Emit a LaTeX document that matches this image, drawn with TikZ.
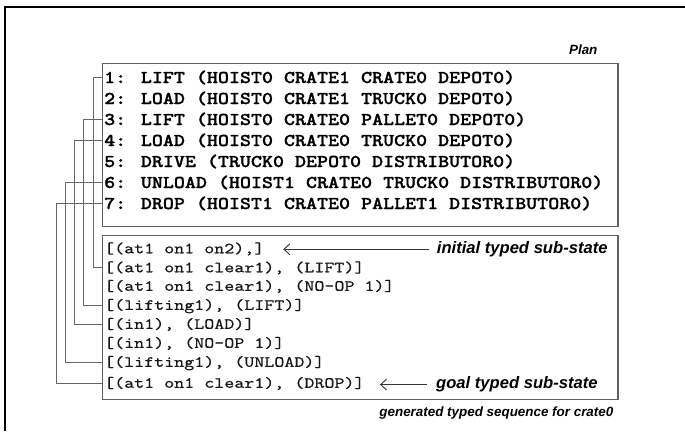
\documentclass[tikz,border=0pt]{standalone}
\usepackage{fontspec}
\setmainfont{Liberation Sans}
\newfontfamily\pmono{lmmonolt10-bold.otf}[FakeStretch=1.165,FakeBold=1.2]
\newfontfamily\smono{lmmono10-regular.otf}[FakeStretch=1.23,FakeBold=0.5]
\usetikzlibrary{arrows.meta,calc}

\tikzset{
  frameline/.style={line width=2pt, draw=black},
  boxst/.style={draw=black!62, line width=1.2pt, inner sep=0pt, anchor=north west},
  plantxt/.style={font=\pmono\fontsize{18}{21}\selectfont, inner sep=0pt, anchor=west, text height=11pt, text depth=0pt},
  subtxt/.style={font=\smono\fontsize{15.5}{19}\selectfont, inner sep=0pt, anchor=west, text height=9.5pt, text depth=0pt, text=black!90},
  lab/.style={font=\bfseries\itshape\fontsize{16.6}{19}\selectfont, inner sep=0pt, anchor=base west},
  captext/.style={font=\bfseries\itshape\fontsize{13.4}{16}\selectfont, inner sep=0pt, anchor=base east},
  conn/.style={draw=black!60, line width=0.9pt},
  arr/.style={draw=black!80, line width=0.9pt, -{Straight Barb[length=6pt,width=11pt]}},
}

\begin{document}
\begin{tikzpicture}[x=1pt,y=-1pt]
\useasboundingbox (0,0) rectangle (685,431);
% outer frame
\coordinate (fbl) at (5,431);
\coordinate (ftl) at (5,6.7);
\coordinate (ftr) at (685,6.7);
\draw[frameline] (fbl) -- (ftl) -- (ftr);

% boxes
\node[boxst, minimum width=515.5pt, minimum height=163.3pt] (planbox) at (101.8,62.7) {};
\node[boxst, minimum width=515.5pt, minimum height=164.2pt] (subbox) at (101.8,234.8) {};

% captions
\node[captext] (plan) at (597.6,54.3) {Plan};
\node[captext] (gen) at (613.5,416.5) {generated typed sequence for crate0};

% plan lines
\node[plantxt] (p1) at (104,77.5)  {1: LIFT (HOIST0 CRATE1 CRATE0 DEPOT0)};
\node[plantxt] (p2) at (104,98.5)  {2: LOAD (HOIST0 CRATE1 TRUCK0 DEPOT0)};
\node[plantxt] (p3) at (104,119.5) {3: LIFT (HOIST0 CRATE0 PALLET0 DEPOT0)};
\node[plantxt] (p4) at (104,140.5) {4: LOAD (HOIST0 CRATE0 TRUCK0 DEPOT0)};
\node[plantxt] (p5) at (104,161.5) {5: DRIVE (TRUCK0 DEPOT0 DISTRIBUTOR0)};
\node[plantxt] (p6) at (104,182.5) {6: UNLOAD (HOIST1 CRATE0 TRUCK0 DISTRIBUTOR0)};
\node[plantxt] (p7) at (104,203.5) {7: DROP (HOIST1 CRATE0 PALLET1 DISTRIBUTOR0)};

% sub-state lines
\node[subtxt] (s1) at (104,248.5) {[(at1 on1 on2),]};
\node[subtxt] (s2) at (104,267.5) {[(at1 on1 clear1), (LIFT)]};
\node[subtxt] (s3) at (104,286)   {[(at1 on1 clear1), (NO-OP 1)]};
\node[subtxt] (s4) at (104,305)   {[(lifting1), (LIFT)]};
\node[subtxt] (s5) at (104,324)   {[(in1), (LOAD)]};
\node[subtxt] (s6) at (104,343)   {[(in1), (NO-OP 1)]};
\node[subtxt] (s7) at (104,362)   {[(lifting1), (UNLOAD)]};
\node[subtxt] (s8) at (104,383)   {[(at1 on1 clear1), (DROP)]};

% labels with arrows
\node[lab] (lab1) at (436.7,253.6) {initial typed sub-state};
\node[lab] (lab8) at (436,388.8) {goal typed sub-state};
\draw[arr, shorten <=8pt, shorten >=18.7pt] (lab1.west) -- (lab1.west -| s1.east);
\draw[arr, shorten <=9pt, shorten >=15.3pt] (lab8.west) -- (lab8.west -| s8.east);

% connectors
\draw[conn] (p1.west -| planbox.west) -- ++(-8.8,0)  |- (s2.west -| subbox.west);
\draw[conn] (p3.west -| planbox.west) -- ++(-17.9,0) |- (s4.west -| subbox.west);
\draw[conn] (p4.west -| planbox.west) -- ++(-27.5,0) |- (s5.west -| subbox.west);
\draw[conn] (p6.west -| planbox.west) -- ++(-36.3,0) |- (s7.west -| subbox.west);
\draw[conn] (p7.west -| planbox.west) -- ++(-45.8,0) |- (s8.west -| subbox.west);
\end{tikzpicture}
\end{document}
